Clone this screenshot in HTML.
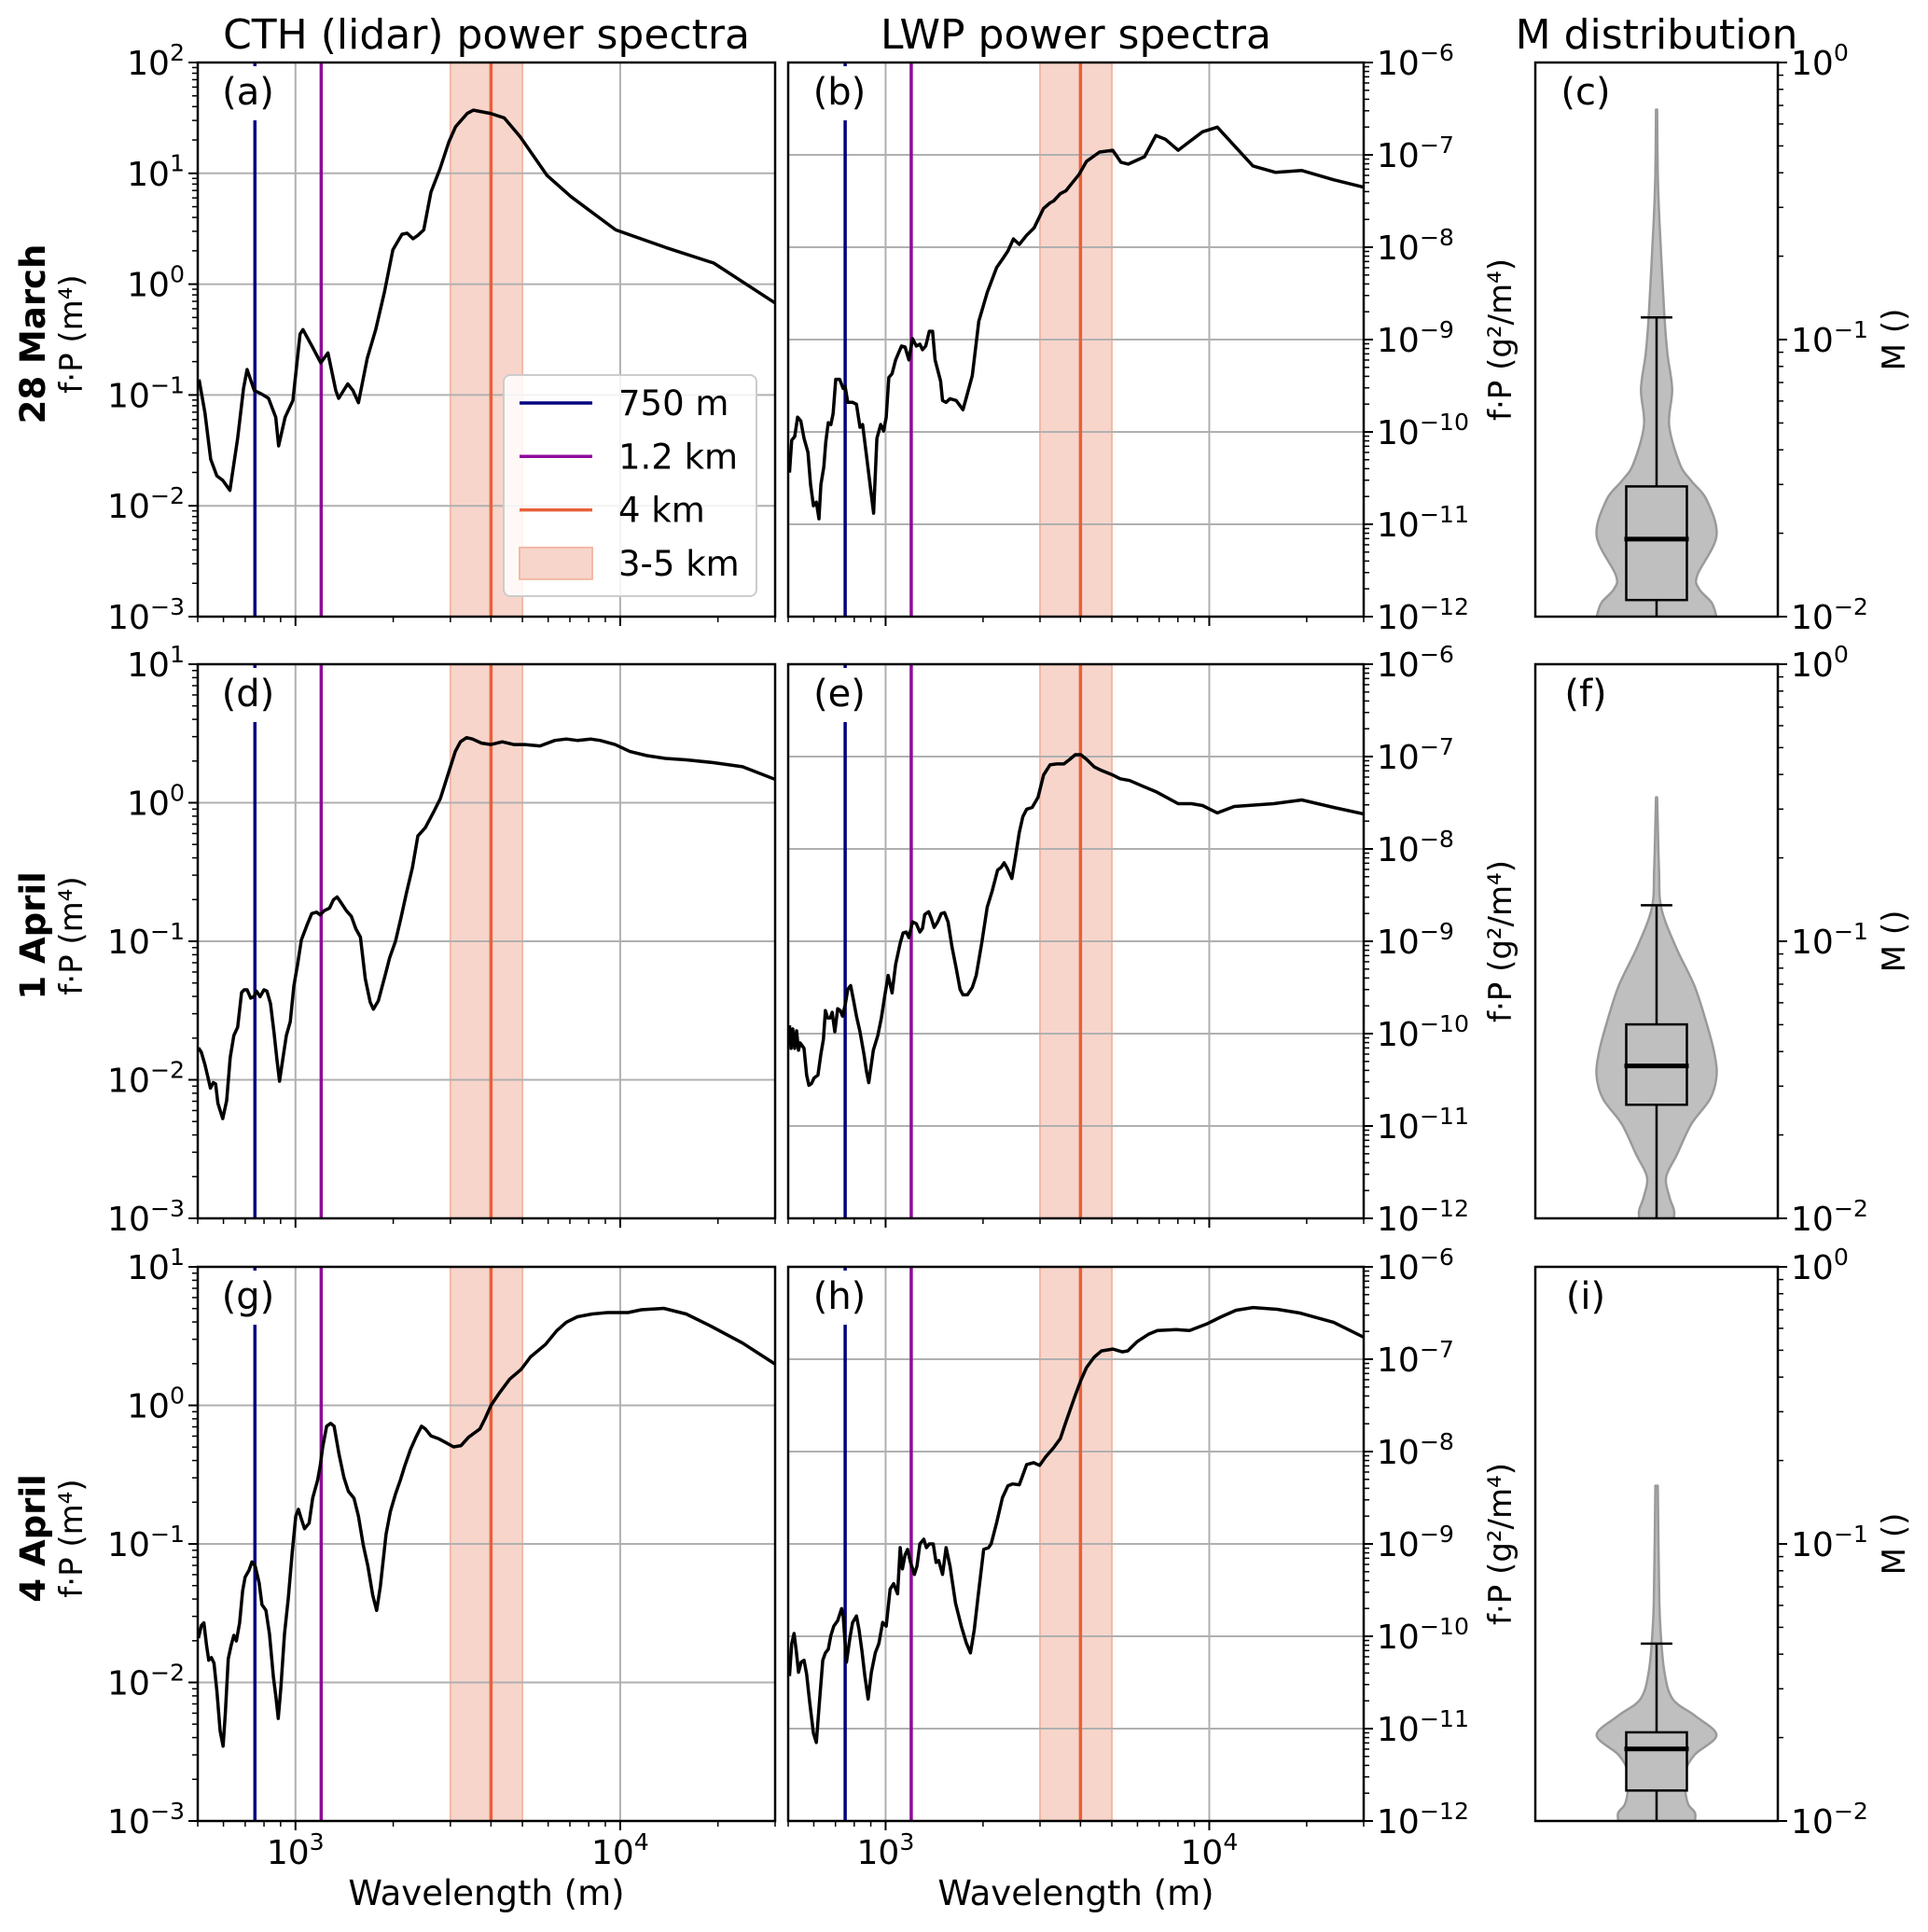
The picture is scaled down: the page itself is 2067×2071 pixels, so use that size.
<!DOCTYPE html>
<html><head><meta charset="utf-8"><title>Power spectra and M distribution</title>
<style>html,body{margin:0;padding:0;background:#fff}svg{display:block;font-family:"DejaVu Sans","Liberation Sans",sans-serif}</style>
</head><body>
<svg id="fig" width="2067" height="2071" viewBox="0 0 2067 2071" xmlns="http://www.w3.org/2000/svg"></svg>
<script>
// ---- data (log10 wavelength, log10 f·P) ----
const aLw=[2.703,2.721,2.739,2.758,2.776,2.798,2.822,2.840,2.851,2.873,2.895,2.917,2.939,2.948,2.968,2.992,3.014,3.023,3.051,3.078,3.100,3.124,3.133,3.161,3.177,3.194,3.221,3.247,3.274,3.300,3.328,3.344,3.362,3.377,3.395,3.417,3.445,3.472,3.493,3.529,3.548,3.601,3.643,3.692,3.775,3.848,3.940,3.986,4.141,4.288,4.477];
const aLv=[-0.86,-1.16,-1.58,-1.73,-1.77,-1.86,-1.39,-0.94,-0.77,-0.96,-0.99,-1.03,-1.20,-1.46,-1.20,-1.05,-0.45,-0.41,-0.56,-0.71,-0.62,-0.96,-1.03,-0.90,-0.96,-1.07,-0.67,-0.41,-0.07,0.31,0.45,0.46,0.41,0.44,0.49,0.83,1.04,1.28,1.42,1.54,1.57,1.54,1.50,1.33,0.98,0.79,0.59,0.49,0.33,0.19,-0.17];
const bLw=[2.703,2.710,2.719,2.728,2.738,2.748,2.760,2.768,2.777,2.786,2.794,2.800,2.809,2.815,2.823,2.831,2.838,2.846,2.858,2.869,2.875,2.883,2.898,2.910,2.921,2.929,2.941,2.952,2.963,2.973,2.985,2.994,3.002,3.010,3.020,3.031,3.049,3.060,3.072,3.083,3.095,3.106,3.114,3.124,3.135,3.145,3.153,3.170,3.176,3.187,3.199,3.218,3.239,3.251,3.268,3.288,3.314,3.343,3.361,3.378,3.395,3.413,3.436,3.459,3.488,3.508,3.519,3.540,3.557,3.575,3.598,3.621,3.661,3.702,3.727,3.750,3.800,3.835,3.864,3.904,3.979,4.025,4.077,4.135,4.205,4.286,4.384,4.476];
const bLv=[-10.44,-10.09,-10.05,-9.84,-9.88,-10.07,-10.22,-10.57,-10.80,-10.76,-10.94,-10.57,-10.38,-10.11,-9.90,-9.92,-9.80,-9.43,-9.43,-9.53,-9.51,-9.68,-9.68,-9.70,-9.95,-9.92,-10.26,-10.57,-10.88,-10.07,-9.92,-9.99,-9.84,-9.41,-9.37,-9.22,-9.07,-9.08,-9.22,-8.99,-9.07,-9.05,-9.11,-9.07,-8.91,-8.91,-9.22,-9.45,-9.66,-9.68,-9.64,-9.66,-9.76,-9.61,-9.39,-8.80,-8.49,-8.22,-8.13,-8.04,-7.91,-7.97,-7.87,-7.79,-7.58,-7.52,-7.50,-7.42,-7.39,-7.31,-7.21,-7.07,-6.97,-6.95,-7.08,-7.10,-7.02,-6.79,-6.83,-6.95,-6.75,-6.70,-6.90,-7.12,-7.19,-7.17,-7.27,-7.35];
const dLw=[2.701,2.710,2.721,2.729,2.738,2.747,2.754,2.761,2.776,2.788,2.799,2.810,2.822,2.834,2.842,2.851,2.862,2.872,2.880,2.891,2.903,2.912,2.923,2.934,2.943,2.951,2.961,2.972,2.984,2.995,3.007,3.018,3.036,3.050,3.065,3.076,3.088,3.105,3.117,3.128,3.140,3.157,3.172,3.186,3.200,3.215,3.230,3.240,3.255,3.279,3.290,3.308,3.325,3.342,3.360,3.377,3.400,3.427,3.446,3.469,3.492,3.508,3.527,3.545,3.573,3.602,3.637,3.672,3.706,3.753,3.799,3.834,3.868,3.909,3.938,3.984,4.030,4.082,4.140,4.203,4.284,4.377,4.476];
const dLv=[-1.77,-1.80,-1.89,-1.97,-2.06,-2.02,-2.03,-2.17,-2.28,-2.15,-1.84,-1.68,-1.62,-1.37,-1.35,-1.35,-1.41,-1.40,-1.36,-1.40,-1.35,-1.36,-1.45,-1.66,-1.86,-2.01,-1.85,-1.68,-1.58,-1.32,-1.16,-0.99,-0.88,-0.80,-0.79,-0.81,-0.78,-0.76,-0.70,-0.68,-0.72,-0.78,-0.82,-0.91,-0.97,-1.27,-1.44,-1.49,-1.43,-1.22,-1.12,-1.00,-0.83,-0.65,-0.47,-0.24,-0.18,-0.06,0.03,0.20,0.37,0.44,0.47,0.46,0.43,0.42,0.44,0.42,0.42,0.41,0.45,0.46,0.45,0.46,0.45,0.42,0.37,0.34,0.32,0.31,0.29,0.26,0.17];
const eLw=[2.703,2.708,2.713,2.719,2.725,2.731,2.736,2.748,2.756,2.763,2.771,2.779,2.791,2.800,2.808,2.814,2.821,2.829,2.835,2.843,2.852,2.860,2.867,2.875,2.883,2.892,2.901,2.910,2.921,2.933,2.941,2.948,2.956,2.962,2.976,2.987,2.997,3.008,3.020,3.031,3.045,3.054,3.064,3.072,3.083,3.095,3.106,3.114,3.121,3.133,3.141,3.150,3.161,3.172,3.182,3.193,3.205,3.218,3.230,3.239,3.253,3.268,3.280,3.297,3.314,3.329,3.346,3.357,3.366,3.376,3.390,3.401,3.413,3.424,3.436,3.453,3.471,3.488,3.508,3.528,3.551,3.569,3.586,3.603,3.621,3.644,3.667,3.702,3.725,3.754,3.794,3.835,3.904,3.945,3.979,4.025,4.077,4.199,4.286,4.384,4.476];
const eLv=[-9.91,-10.16,-9.95,-10.16,-9.97,-10.18,-10.10,-10.16,-10.45,-10.56,-10.54,-10.48,-10.45,-10.22,-10.06,-9.75,-9.83,-9.83,-9.77,-9.98,-9.73,-9.75,-9.81,-9.69,-9.52,-9.48,-9.64,-9.81,-9.98,-10.22,-10.41,-10.53,-10.33,-10.18,-10.02,-9.83,-9.60,-9.37,-9.56,-9.25,-9.02,-8.91,-8.90,-8.96,-8.79,-8.81,-8.90,-8.86,-8.71,-8.68,-8.75,-8.85,-8.79,-8.70,-8.69,-8.79,-9.06,-9.29,-9.52,-9.58,-9.58,-9.50,-9.37,-9.02,-8.63,-8.46,-8.23,-8.20,-8.15,-8.21,-8.32,-8.09,-7.82,-7.65,-7.57,-7.55,-7.44,-7.20,-7.09,-7.08,-7.08,-7.03,-6.98,-6.98,-7.03,-7.11,-7.15,-7.20,-7.24,-7.26,-7.32,-7.38,-7.51,-7.51,-7.53,-7.61,-7.54,-7.51,-7.47,-7.55,-7.62];
const gLw=[2.701,2.710,2.718,2.726,2.733,2.741,2.749,2.758,2.768,2.777,2.784,2.793,2.802,2.810,2.818,2.828,2.837,2.845,2.857,2.866,2.876,2.888,2.897,2.909,2.920,2.932,2.940,2.947,2.955,2.966,2.978,2.990,3.001,3.009,3.018,3.028,3.042,3.053,3.068,3.076,3.084,3.096,3.108,3.119,3.134,3.149,3.163,3.180,3.194,3.209,3.223,3.238,3.250,3.261,3.279,3.292,3.308,3.323,3.336,3.354,3.371,3.388,3.400,3.417,3.440,3.464,3.487,3.510,3.533,3.568,3.585,3.602,3.625,3.660,3.695,3.724,3.770,3.805,3.834,3.868,3.914,3.961,4.024,4.065,4.134,4.203,4.273,4.377,4.476];
const gLv=[-1.68,-1.59,-1.57,-1.73,-1.84,-1.82,-1.86,-2.06,-2.35,-2.46,-2.22,-1.83,-1.73,-1.66,-1.70,-1.57,-1.34,-1.24,-1.19,-1.13,-1.16,-1.28,-1.44,-1.48,-1.65,-1.96,-2.11,-2.26,-2.04,-1.65,-1.39,-1.06,-0.80,-0.75,-0.82,-0.89,-0.85,-0.67,-0.54,-0.44,-0.30,-0.15,-0.13,-0.15,-0.35,-0.52,-0.62,-0.67,-0.80,-1.01,-1.16,-1.37,-1.48,-1.31,-0.93,-0.77,-0.64,-0.54,-0.44,-0.32,-0.23,-0.15,-0.17,-0.22,-0.24,-0.27,-0.30,-0.29,-0.23,-0.17,-0.09,0.00,0.08,0.19,0.26,0.35,0.44,0.54,0.60,0.64,0.66,0.67,0.67,0.69,0.70,0.66,0.58,0.45,0.30];
const hLw=[2.703,2.710,2.717,2.724,2.731,2.739,2.748,2.756,2.765,2.777,2.786,2.795,2.806,2.814,2.823,2.831,2.840,2.852,2.864,2.869,2.879,2.890,2.898,2.910,2.918,2.927,2.936,2.946,2.956,2.968,2.979,2.991,3.002,3.014,3.025,3.037,3.045,3.052,3.060,3.068,3.077,3.089,3.097,3.106,3.118,3.126,3.135,3.147,3.156,3.164,3.176,3.187,3.199,3.216,3.234,3.249,3.262,3.274,3.286,3.303,3.318,3.326,3.343,3.361,3.378,3.392,3.413,3.436,3.457,3.476,3.494,3.519,3.540,3.554,3.569,3.586,3.603,3.621,3.644,3.667,3.702,3.731,3.748,3.777,3.812,3.840,3.898,3.939,3.991,4.037,4.083,4.135,4.210,4.280,4.384,4.476];
const hLv=[-10.43,-10.08,-9.97,-10.16,-10.39,-10.28,-10.26,-10.41,-10.70,-11.05,-11.15,-10.74,-10.26,-10.18,-10.14,-9.99,-9.89,-9.83,-9.70,-9.78,-10.28,-10.01,-9.85,-9.78,-9.93,-10.16,-10.43,-10.68,-10.39,-10.18,-10.08,-9.85,-9.89,-9.49,-9.43,-9.54,-9.04,-9.27,-9.12,-9.06,-9.20,-9.33,-9.24,-9.00,-8.95,-9.04,-9.00,-9.00,-9.20,-9.18,-9.33,-9.04,-9.24,-9.64,-9.89,-10.07,-10.18,-9.93,-9.56,-9.06,-9.04,-9.00,-8.77,-8.50,-8.37,-8.35,-8.36,-8.14,-8.12,-8.15,-8.06,-7.96,-7.86,-7.71,-7.56,-7.39,-7.23,-7.09,-6.98,-6.91,-6.89,-6.92,-6.91,-6.81,-6.73,-6.69,-6.68,-6.69,-6.62,-6.54,-6.47,-6.44,-6.46,-6.50,-6.60,-6.76];
// violins: log10 M vs relative half-width; boxes: [q1, median, q3, upper whisker] in log10 M
const cVm=[-0.17,-0.40,-0.58,-0.91,-1.05,-1.18,-1.31,-1.45,-1.51,-1.58,-1.71,-1.85,-1.90,-1.95,-2.0];
const cVw=[0.01,0.02,0.05,0.13,0.18,0.26,0.21,0.39,0.58,0.84,1.0,0.68,0.71,0.92,1.0];
const cBox=[-1.94,-1.72,-1.53,-0.92];
const fVm=[-0.48,-0.74,-0.88,-1.02,-1.16,-1.30,-1.41,-1.49,-1.57,-1.66,-1.77,-1.85,-1.92,-1.97,-2.0];
const fVw=[0.01,0.04,0.08,0.32,0.63,0.84,0.97,1.0,0.89,0.58,0.34,0.16,0.21,0.29,0.29];
const fBox=[-1.59,-1.45,-1.30,-0.87];
const iVm=[-0.79,-1.13,-1.29,-1.46,-1.56,-1.62,-1.69,-1.76,-1.82,-1.89,-1.94,-1.97,-2.0];
const iVw=[0.02,0.04,0.06,0.13,0.27,0.64,1.0,0.64,0.48,0.48,0.53,0.64,0.64];
const iBox=[-1.89,-1.74,-1.68,-1.36];
const markerWl=[750,1200,4000];
const bandWl=[3000,5000];
const xTickExp=[3,4];

// ---- layout ----
const svg=document.getElementById('fig');
const NS='http://www.w3.org/2000/svg';
const COLS=[{x:212,w:619},{x:845,w:617},{x:1646,w:260}];
const ROWS=[{y:67,h:594},{y:712,h:594},{y:1358,h:594}];
const XLO=Math.log10(500),XHI=Math.log10(30000);
const FONT='"DejaVu Sans","Liberation Sans",sans-serif';
function mk(tag,attrs,parent){const e=document.createElementNS(NS,tag);for(const k in attrs)e.setAttribute(k,attrs[k]);(parent||svg).appendChild(e);return e;}
function xs(col,lw){return col.x+(lw-XLO)/(XHI-XLO)*col.w;}
function ys(row,lv,lo,hi){return row.y+(hi-lv)/(hi-lo)*row.h;}
function smooth(pts){
  let d='M'+pts[0][0].toFixed(1)+','+pts[0][1].toFixed(1);
  for(let i=0;i<pts.length-1;i++){
    const p0=pts[Math.max(0,i-1)],p1=pts[i],p2=pts[i+1],p3=pts[Math.min(pts.length-1,i+2)];
    const c1x=p1[0]+(p2[0]-p0[0])/6,c1y=p1[1]+(p2[1]-p0[1])/6;
    const c2x=p2[0]-(p3[0]-p1[0])/6,c2y=p2[1]-(p3[1]-p1[1])/6;
    d+='C'+c1x.toFixed(1)+','+c1y.toFixed(1)+' '+c2x.toFixed(1)+','+c2y.toFixed(1)+' '+p2[0].toFixed(1)+','+p2[1].toFixed(1);
  }
  return d;
}
function powLabel(g,x,y,exp,anchor,size){
  const t=mk('text',{x:x,y:y,'font-size':size,'text-anchor':anchor,fill:'#000','font-family':FONT},g);
  t.appendChild(document.createTextNode('10'));
  const s=mk('tspan',{dy:-size*0.42,'font-size':size*0.7},t);
  s.textContent=(exp<0?'\u2212'+(-exp):''+exp);
  return t;
}
const defs=mk('defs',{});
const names=['a','b','c','d','e','f','g','h','i'];
const spectra={a:[aLw,aLv],b:[bLw,bLv],d:[dLw,dLv],e:[eLw,eLv],g:[gLw,gLv],h:[hLw,hLv]};
const violins={c:[cVm,cVw,cBox],f:[fVm,fVw,fBox],i:[iVm,iVw,iBox]};
const rowNames=['28 March','1 April','4 April'];
const markerColors=['#000080','#8f0a9a','#e8613a'];

for(let r=0;r<3;r++){
  for(let c=0;c<3;c++){
    const id=names[r*3+c], col=COLS[c], row=ROWS[r];
    const g=mk('g',{});
    
    
    const cp=mk('clipPath',{id:'clip'+id},defs);
    mk('rect',{x:col.x,y:row.y,width:col.w,height:row.h},cp);
    if(c<2){
      const lo=(c===0)?-3:-12, hi=(c===0)?(r===0?2:1):-6;
      const bx0=xs(col,Math.log10(bandWl[0])),bx1=xs(col,Math.log10(bandWl[1]));
      const band=mk('rect',{x:bx0,y:row.y,width:bx1-bx0,height:row.h,fill:'#f7d5cb',stroke:'#f2b9a6','stroke-width':2},g);
      
      
      for(const e of xTickExp){const gx=xs(col,e);const l=mk('line',{x1:gx,x2:gx,y1:row.y,y2:row.y+row.h,stroke:'#b0b0b0','stroke-width':2},g);}
      for(let e=lo+1;e<hi;e++){const gy=ys(row,e,lo,hi);const l=mk('line',{x1:col.x,x2:col.x+col.w,y1:gy,y2:gy,stroke:'#b0b0b0','stroke-width':2},g);}
      markerWl.forEach((w,k)=>{const mx=xs(col,Math.log10(w));const l=mk('line',{x1:mx,x2:mx,y1:row.y,y2:row.y+row.h,stroke:markerColors[k],'stroke-width':3.5},g);});
      const lx=col.x+(c===0?54:55);
      const bg=mk('rect',{x:lx-36,y:row.y+4,width:72,height:58,fill:'#fff'},g);
      
      
      const lt=mk('text',{x:lx,y:row.y+45,'font-size':40,'text-anchor':'middle','font-family':FONT},g);
      lt.textContent='('+id+')';
      
      
      const [LW,LV]=spectra[id];
      let d='';
      for(let k=0;k<LW.length;k++){d+=(k?'L':'M')+xs(col,LW[k]).toFixed(1)+','+ys(row,LV[k],lo,hi).toFixed(1);}
      const p=mk('path',{d:d,fill:'none',stroke:'#000','stroke-width':3.5,'stroke-linejoin':'round','clip-path':'url(#clip'+id+')'},g);
      
      
      const by=row.y+row.h;
      for(let e=2;e<=4;e++){for(let m=1;m<=9;m++){const v=m*Math.pow(10,e);const lv=Math.log10(v);if(lv<XLO-1e-6||lv>XHI+1e-6)continue;const tx=xs(col,lv);const len=(m===1)?10:6;const tk=mk('line',{x1:tx,x2:tx,y1:by,y2:by+len,stroke:'#000','stroke-width':(m===1)?2:1.5},g);}}
      if(r===2){for(const e of xTickExp){const t=powLabel(g,xs(col,e),by+46,e,'middle',36);}
        const xl=mk('text',{x:col.x+col.w/2,y:2042,'font-size':37,'text-anchor':'middle','font-family':FONT},g);xl.textContent='Wavelength (m)';}
      const side=(c===0)?-1:1, sx=(c===0)?col.x:col.x+col.w;
      for(let e=lo;e<=hi;e++){
        const ty=ys(row,e,lo,hi);
        const tk=mk('line',{x1:sx,x2:sx+side*10,y1:ty,y2:ty,stroke:'#000','stroke-width':2},g);
        const t=powLabel(g,sx+side*14,ty+13,e,c===0?'end':'start',36);
        if(e<hi){for(let m=2;m<=9;m++){const my=ys(row,e+Math.log10(m),lo,hi);const mt=mk('line',{x1:sx,x2:sx+side*6,y1:my,y2:my,stroke:'#000','stroke-width':1.5},g);}}
      }
      if(c===0){
        const cy=row.y+row.h/2-6;
        const t1=mk('text',{x:0,y:0,'font-size':37,'font-weight':'bold','text-anchor':'middle','font-family':FONT,transform:'translate(48,'+cy+') rotate(-90)'},g);t1.textContent=rowNames[r];
        const t2=mk('text',{x:0,y:0,'font-size':34,'text-anchor':'middle','font-family':FONT,transform:'translate(88,'+cy+') rotate(-90)'},g);t2.textContent='f\u00b7P (m\u2074)';
      } else {
        const cy=row.y+row.h/2;
        const t2=mk('text',{x:0,y:0,'font-size':34,'text-anchor':'middle','font-family':FONT,transform:'translate(1620,'+cy+') rotate(-90)'},g);t2.textContent='f\u00b7P (g\u00b2/m\u2074)';
      }
    } else {
      const lo=-2,hi=0,[VM,VW,BX]=violins[id];
      const cx=col.x+col.w/2, mhw=0.247*col.w;
      const right=[],left=[];
      for(let k=0;k<VM.length;k++){right.push([cx+VW[k]*mhw,ys(row,VM[k],lo,hi)]);}
      for(let k=VM.length-1;k>=0;k--){left.push([cx-VW[k]*mhw,ys(row,VM[k],lo,hi)]);}
      const dR=smooth(right), dL=smooth(left).replace(/^M/,'L');
      const v=mk('path',{d:dR+dL+'Z',fill:'#bfbfbf',stroke:'#9a9a9a','stroke-width':2.5,'stroke-linejoin':'round','clip-path':'url(#clip'+id+')'},g);
      
      
      const bhw=0.125*col.w, chw=0.065*col.w;
      const yq1=ys(row,BX[0],lo,hi),ymed=ys(row,BX[1],lo,hi),yq3=ys(row,BX[2],lo,hi),yw=ys(row,BX[3],lo,hi);
      const wl=mk('line',{x1:cx,x2:cx,y1:yw,y2:row.y+row.h,stroke:'#000','stroke-width':2.5},g);
      const cap=mk('line',{x1:cx-chw,x2:cx+chw,y1:yw,y2:yw,stroke:'#000','stroke-width':2.5},g);
      const bxr=mk('rect',{x:cx-bhw,y:yq3,width:2*bhw,height:yq1-yq3,fill:'#bfbfbf',stroke:'#000','stroke-width':2.5},g);
      const ml=mk('line',{x1:cx-bhw-2,x2:cx+bhw+2,y1:ymed,y2:ymed,stroke:'#000','stroke-width':5},g);
      const lt=mk('text',{x:col.x+54,y:row.y+45,'font-size':40,'text-anchor':'middle','font-family':FONT},g);
      lt.textContent='('+id+')';
      
      
      const sx=col.x+col.w;
      for(let e=lo;e<=hi;e++){
        const ty=ys(row,e,lo,hi);
        const tk=mk('line',{x1:sx,x2:sx+10,y1:ty,y2:ty,stroke:'#000','stroke-width':2},g);
        const t=powLabel(g,sx+14,ty+13,e,'start',36);
        if(e<hi){for(let m=2;m<=9;m++){const my=ys(row,e+Math.log10(m),lo,hi);const mt=mk('line',{x1:sx,x2:sx+6,y1:my,y2:my,stroke:'#000','stroke-width':1.5},g);}}
      }
      const t2=mk('text',{x:0,y:0,'font-size':34,'text-anchor':'middle','font-family':FONT,transform:'translate(2042,'+(row.y+row.h/2)+') rotate(-90)'},g);t2.textContent='M ()';
    }
    const fr=mk('rect',{x:col.x,y:row.y,width:col.w,height:row.h,fill:'none',stroke:'#000','stroke-width':2.5},g);
    
    
  }
}
const titles=['CTH (lidar) power spectra','LWP power spectra','M distribution'];
titles.forEach((s,c)=>{const t=mk('text',{x:COLS[c].x+COLS[c].w/2,y:52,'font-size':44,'text-anchor':'middle','font-family':FONT});t.textContent=s;});
const lg=mk('g',{});


mk('rect',{x:540,y:402,width:271,height:237,rx:7,fill:'#fff','fill-opacity':0.85,stroke:'#cccccc','stroke-width':2},lg);
const legendLabels=['750 m','1.2 km','4 km','3-5 km'];
legendLabels.forEach((s,k)=>{
  const cy=432+k*57.3;
  if(k<3){const l=mk('line',{x1:557,x2:635,y1:cy,y2:cy,stroke:markerColors[k],'stroke-width':3.5},lg);}
  else{const rr=mk('rect',{x:557,y:cy-17,width:78,height:34,fill:'#f7d5cb',stroke:'#f2b9a6','stroke-width':2},lg);}
  const t=mk('text',{x:663,y:cy+13,'font-size':37,'font-family':FONT},lg);t.textContent=s;
  
  
});
</script>
</body></html>
